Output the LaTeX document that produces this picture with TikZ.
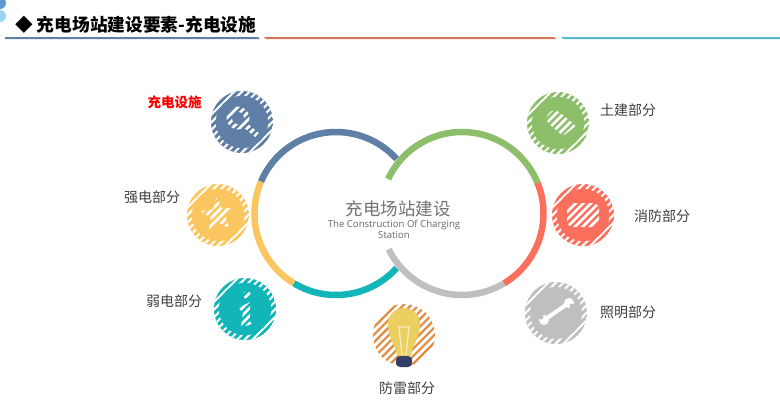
\documentclass[tikz,border=0pt]{standalone}
\usepackage{fontspec}
\setmainfont{Noto Sans CJK SC}
\newfontfamily\latinfont{Open Sans}
\usetikzlibrary{calc}
\definecolor{ringblue}{HTML}{5F7FA6}
\definecolor{ringyellow}{HTML}{FBC65F}
\definecolor{ringteal}{HTML}{12B5B8}
\definecolor{ringgreen}{HTML}{8DBE6A}
\definecolor{ringred}{HTML}{FC6F5C}
\definecolor{ringgray}{HTML}{BFBFBF}
\definecolor{lampstripe}{HTML}{E08D42}
\definecolor{lampbulb}{HTML}{EBCF60}
\definecolor{lampcap}{HTML}{333F69}
\definecolor{ruleorange}{HTML}{D9775A}
\definecolor{rulecyan}{HTML}{55B9D2}
\definecolor{blobdark}{HTML}{5B9BD5}
\definecolor{bloblight}{HTML}{9DD3F2}
% stripes over a disc, in local coordinates
\newcommand{\slashlines}[2]{\foreach \k in {-11,...,11} {\draw[#1, line width=#2] (\k*7.6-40,-40) -- (\k*7.6+40,40);}}
% striped disc with a solid middle
\newcommand{\hatchdisc}[1]{
  \begin{scope}
    \clip (0,0) circle (31);
    \fill[#1] (0,0) circle (31);
    \slashlines{white}{2pt}
  \end{scope}
  \fill[#1] (0,0) circle (26);
}
% stripes across the white glyph, kept inside the solid middle
\newcommand{\glyphlines}[1]{
  \begin{scope}
    \clip (0,0) circle (26);
    \slashlines{#1}{2.4pt}
  \end{scope}
}
\begin{document}
\begin{tikzpicture}[
    x=1pt, y=1pt,
    ringarc/.style={line width=6.5pt},
    lbl/.style={font=\fontsize{14}{16}\selectfont, text=black!75, inner sep=0pt},
    glyph/.style={fill=white, draw=none},
]
\useasboundingbox (0,0) rectangle (780,-405);
\fill[white] (0,0) rectangle (780,-405);
% === Header ===
\fill[bloblight] (0,-16) circle (6);
\fill[blobdark] (0,-3) circle (6);
\node[anchor=west, inner sep=0pt, font=\fontsize{17.7}{20}\selectfont\bfseries] (title) at (15,-25) {◆ 充电场站建设要素-充电设施};
\fill[ringblue] (5,-37) -- (258,-37) -- (260,-39) -- (5,-39) -- cycle;
\fill[ruleorange] (264,-37) -- (554,-37) -- (556,-39) -- (266,-39) -- cycle;
\fill[rulecyan] (561,-37) -- (780,-37) -- (780,-39) -- (563,-39) -- cycle;
% === Two rings ===
\coordinate (leftring) at (336,-213.5);
\coordinate (rightring) at (462,-213.5);
\draw[ringarc, ringblue] (leftring) ++(42:81.5) arc[start angle=42, end angle=157, radius=81.5];
\draw[ringarc, ringyellow] (leftring) ++(157:81.5) arc[start angle=157, end angle=239, radius=81.5];
\draw[ringarc, ringteal] (leftring) ++(239:81.5) arc[start angle=239, end angle=318, radius=81.5];
\draw[ringarc, ringgreen] (rightring) ++(155:81.5) arc[start angle=155, end angle=22, radius=81.5];
\draw[ringarc, ringred] (rightring) ++(22:81.5) arc[start angle=22, end angle=-59, radius=81.5];
\draw[ringarc, ringgray] (rightring) ++(-59:81.5) arc[start angle=-59, end angle=-154, radius=81.5];
% === Centre text ===
\node[inner sep=0pt, text=black!55, font=\fontsize{17.5}{20}\selectfont] (centre) at (398,-209) {充电场站建设};
\node[inner sep=0pt, anchor=north, text=black!60, align=center, font=\latinfont\fontsize{9.6}{11}\selectfont] (centresub) at (394,-220) {The Construction Of Charging\\Station};
% === Charging facility ===
\coordinate (facility) at (242,-122);
\begin{scope}[shift={(facility)}]
  \hatchdisc{ringblue}
  \fill[glyph] (-4,4) circle (11.5);
  \draw[white, line width=5.5pt] (3,-3) -- (15,-13);
  \glyphlines{ringblue}
  \fill[ringblue] (-4,4) circle (6);
\end{scope}
\node[lbl, text=red, font=\fontsize{13.5}{16}\selectfont\bfseries] (facilitylbl) at (174.5,-102) {充电设施};
% === Strong current ===
\coordinate (strong) at (218,-215);
\begin{scope}[shift={(strong)}]
  \hatchdisc{ringyellow}
  \fill[glyph, rounded corners=1pt] (95:18) -- (131:7.5) -- (167:18) -- (203:7.5) -- (239:18) -- (275:7.5) -- (311:18) -- (347:7.5) -- (23:18) -- (59:7.5) -- cycle;
  \glyphlines{ringyellow}
\end{scope}
\node[lbl] (stronglbl) at (152,-197) {强电部分};
% === Weak current ===
\coordinate (weak) at (245,-309);
\begin{scope}[shift={(weak)}]
  \hatchdisc{ringteal}
  \fill[glyph] (2,14) circle (4);
  \fill[glyph] (-7,1) -- (5,7) -- (5,-13) -- (8,-15) -- (-4,-18) -- (-2,-3) -- cycle;
  \glyphlines{ringteal}
\end{scope}
\node[lbl] (weaklbl) at (174,-301) {弱电部分};
% === Lightning protection ===
\coordinate (lamp) at (404,-335);
\begin{scope}[shift={(lamp)}]
  \begin{scope}
    \clip (0,0) circle (31);
    \slashlines{lampstripe}{2.2pt}
  \end{scope}
  \fill[lampbulb] (-7,-21) .. controls (-8,-10) and (-16,-4) .. (-16,11) .. controls (-16,21) and (-8,27) .. (0,27) .. controls (8,27) and (16,21) .. (16,11) .. controls (16,-4) and (8,-10) .. (7,-21) -- cycle;
  \draw[lampbulb!40!white, line width=1.3pt] (-2,-20) -- (-5,8) -- (5,8) -- (2,-20);
  \fill[lampcap, rounded corners=4pt] (-8,-21) -- (8,-21) -- (8,-32) -- (-8,-32) -- cycle;
\end{scope}
\node[lbl] (lamplbl) at (407,-388) {防雷部分};
% === Civil works ===
\coordinate (civil) at (558,-123);
\begin{scope}[shift={(civil)}]
  \hatchdisc{ringgreen}
  \fill[glyph, rounded corners=2pt] (-12,6) -- (-6,13) -- (0,12) -- (18,-3) -- (5,-13) -- (-10,0) -- cycle;
  \glyphlines{ringgreen}
\end{scope}
\node[lbl] (civillbl) at (628,-110) {土建部分};
% === Fire protection ===
\coordinate (fire) at (583,-215);
\begin{scope}[shift={(fire)}]
  \hatchdisc{ringred}
  \fill[glyph, rounded corners=6pt] (-16,-12) rectangle (16,12);
  \glyphlines{ringred}
\end{scope}
\node[lbl] (firelbl) at (662,-216) {消防部分};
% === Lighting ===
\coordinate (lighting) at (556,-313);
\begin{scope}[shift={(lighting)}]
  \hatchdisc{ringgray}
  \draw[white, line width=4pt] (-12,-7) -- (13,10);
  \fill[glyph] (-12,-7) circle (5);
  \fill[glyph] (13,10) circle (5);
  \fill[ringgray] (-15,-4) circle (2.5);
  \fill[ringgray] (16,7) circle (2.5);
\end{scope}
\node[lbl] (lightinglbl) at (628,-312) {照明部分};
\end{tikzpicture}
\end{document}
